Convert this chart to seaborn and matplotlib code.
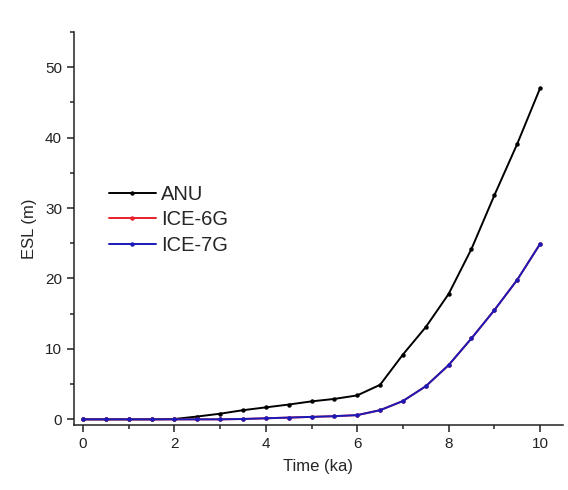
import numpy as np
import pandas as pd
import matplotlib
matplotlib.use("Agg")
import matplotlib.pyplot as plt
import seaborn as sns
from matplotlib.ticker import MultipleLocator

time_ka = [0, 0.5, 1, 1.5, 2, 2.5, 3, 3.5, 4, 4.5, 5, 5.5, 6, 6.5, 7, 7.5, 8, 8.5, 9, 9.5, 10]
anu = [0, 0, 0, 0, 0.05, 0.4, 0.8, 1.3, 1.7, 2.1, 2.55, 2.9, 3.4, 4.9, 9.2, 13.1, 17.8, 24.2, 31.8, 39.1, 47.0]
ice6g = [0, 0, 0, 0, 0, 0, 0, 0.05, 0.15, 0.25, 0.35, 0.45, 0.6, 1.3, 2.6, 4.7, 7.7, 11.5, 15.5, 19.8, 24.9]
ice7g = [0, 0, 0, 0, 0, 0, 0, 0.05, 0.15, 0.25, 0.35, 0.45, 0.6, 1.3, 2.6, 4.7, 7.7, 11.5, 15.5, 19.8, 24.9]
series_names = ["ANU", "ICE-6G", "ICE-7G"]
colors = ["#000000", "#e8202a", "#1a1ab8"]

df = pd.concat([
    pd.DataFrame({"Time": time_ka, "ESL": vals, "Model": name})
    for name, vals in zip(series_names, [anu, ice6g, ice7g])
])

sns.set_style("ticks")
plt.rcParams["font.family"] = ["Liberation Sans", "DejaVu Sans"]

fig = plt.figure(figsize=(5.68, 4.90), dpi=100)
ax = fig.add_axes([0.130, 0.1327, 0.861, 0.802])

sns.lineplot(data=df, x="Time", y="ESL", hue="Model", hue_order=series_names,
             palette=colors, marker="o", markersize=3.2, markeredgewidth=0,
             linewidth=1.4, ax=ax)

ax.set_xlim(-0.2, 10.5)
ax.set_ylim(-0.8, 55)
ax.xaxis.set_major_locator(MultipleLocator(2))
ax.xaxis.set_minor_locator(MultipleLocator(1))
ax.yaxis.set_major_locator(MultipleLocator(10))
ax.yaxis.set_minor_locator(MultipleLocator(5))
ax.tick_params(which="major", direction="out", length=5, width=1.1, labelsize=11, colors="#222222")
ax.tick_params(which="minor", direction="out", length=3, width=1.1)
for s in ["left", "bottom"]:
    ax.spines[s].set_linewidth(1.1)
    ax.spines[s].set_color("#222222")
sns.despine(ax=ax)

ax.set_xlabel("Time (ka)", fontsize=12, labelpad=6)
ax.set_ylabel("ESL (m)", fontsize=12, labelpad=6)

leg = ax.legend(loc="upper left", bbox_to_anchor=(0.055, 0.632), frameon=False,
                fontsize=14.5, handlelength=2.35, handletextpad=0.25, labelspacing=0.32,
                borderaxespad=0)

fig.savefig("out.png", dpi=100)
